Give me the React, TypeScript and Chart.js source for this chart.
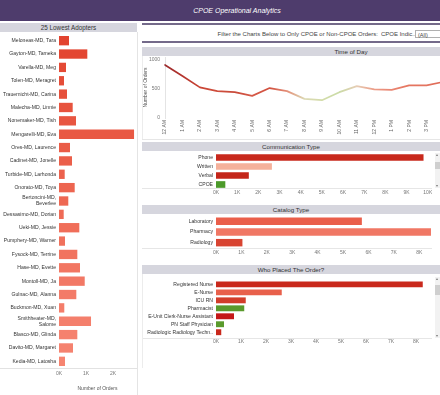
import React, { useEffect, useRef } from "react";
import { Chart, registerables } from "chart.js";

Chart.register(...registerables);

const FONT = "'Liberation Sans', Arial, Helvetica, sans-serif";
Chart.defaults.font.family = FONT;
Chart.defaults.color = "#555";

// ---------------- data ----------------
const adopterNames: (string | string[])[] = [
  "Meloneas-MD, Tara",
  "Gayton-MD, Tameka",
  "Varella-MD, Meg",
  "Tolen-MD, Meragret",
  "Trauernicht-MD, Carina",
  "Malecha-MD, Linnie",
  "Nonemaker-MD, Tish",
  "Mengarelli-MD, Eva",
  "Ores-MD, Laurence",
  "Cadinet-MD, Jonelle",
  "Turbide-MD, Larhonda",
  "Onorato-MD, Toya",
  ["Bertoncini-MD,", "Beverlee"],
  "Dessasimo-MD, Dorian",
  "Ueki-MD, Jessie",
  "Pumphery-MD, Warner",
  "Fysock-MD, Terrine",
  "Hase-MD, Evette",
  "Montoll-MD, Ja",
  "Gulnac-MD, Alanna",
  "Buckmon-MD, Xuan",
  ["Smithheater-MD,", "Salome"],
  "Blasco-MD, Glinda",
  "Davito-MD, Margaret",
  "Kedia-MD, Latosha",
];
const adopterOrders = [
  370, 1048, 260, 185, 296, 507, 630, 2778, 407, 481, 211, 581, 344, 174, 752,
  222, 678, 778, 952, 641, 196, 1185, 678, 519, 222,
];
const adopterColors = [
  "#e2432f", "#e34632", "#e44a35", "#e54d38", "#e6503b", "#e7533e", "#e85641",
  "#e95944", "#ea5c47", "#eb5f4a", "#ec624d", "#ed6550", "#ee6853", "#ef6b56",
  "#f06e59", "#f0715c", "#f1735f", "#f27662", "#f27865", "#f37b68", "#f47d6a",
  "#f47f6c", "#f5816e", "#f5826f", "#f68470",
];
const adopterTicks = [0, 1000, 2000];

const hourLabels = [
  "12 AM", "1 AM", "2 AM", "3 AM", "4 AM", "5 AM", "6 AM", "7 AM", "8 AM",
  "9 AM", "10 AM", "11 AM", "12 PM", "1 PM", "2 PM", "3 PM", "4 PM",
];
const hourOrders = [
  913, 723, 527, 463, 445, 381, 515, 463, 329, 307, 445, 549, 492, 485, 562,
  562, 624,
];
const hourColors = [
  "#9b2a2c", "#b5352e", "#c94535", "#cf4d3c", "#c84a3a", "#d65a48", "#d1503f",
  "#e48f78", "#dcd9b4", "#d3dcaa", "#cadba6", "#e6cdb5", "#ec9c87", "#e98572",
  "#e5755f", "#e37460", "#de6652",
];
const hourTicks = [0, 500, 1000];

const commTypes = ["Phone", "Written", "Verbal", "CPOE"];
const commOrders = [9800, 2640, 1550, 440];
const commColors = ["#c8281c", "#f5b19b", "#c4261a", "#4c9a2a"];
const commTicks = [0, 1000, 2000, 3000, 4000, 5000, 6000, 7000, 8000, 9000, 10000];

const catalogTypes = ["Laboratory", "Pharmacy", "Radiology"];
const catalogOrders = [5740, 8460, 1040];
const catalogColors = ["#ea5e4a", "#f07764", "#d84431"];
const catalogTicks = [0, 1000, 2000, 3000, 4000, 5000, 6000, 7000, 8000];

const placerRoles = [
  "Registered Nurse",
  "E-Nurse",
  "ICU RN",
  "Pharmacist",
  "E-Unit Clerk-Nurse Assistant",
  "PN Staff Physician",
  "Radiologic Radiology Techn..",
];
const placerOrders = [8270, 2630, 1190, 1130, 720, 320, 210];
const placerColors = [
  "#c9291c", "#e8604b", "#d23d2a", "#5a9a2c", "#c41818", "#5a9a2c", "#c9291c",
];
const placerTicks = [0, 1000, 2000, 3000, 4000, 5000, 6000, 7000, 8000];

// ---------------- helpers ----------------
function fixWidth(w: number) {
  return (s: any) => {
    s.width = w;
    s.paddingLeft = 0;
    s.paddingRight = 0;
    s.paddingTop = 0;
    s.paddingBottom = 0;
  };
}
function fixHeight(h: number) {
  return (s: any) => {
    s.height = h;
    s.paddingLeft = 0;
    s.paddingRight = 0;
    s.paddingTop = 0;
    s.paddingBottom = 0;
  };
}
function setTicks(values: number[]) {
  return (s: any) => {
    s.ticks = values.map((v) => ({ value: v }));
  };
}

function ChartCanvas(props: { x: number; y: number; w: number; h: number; make: () => any }) {
  const ref = useRef<HTMLCanvasElement | null>(null);
  useEffect(() => {
    const chart = new Chart(ref.current as HTMLCanvasElement, props.make());
    return () => chart.destroy();
  }, []);
  return (
    <canvas
      ref={ref}
      width={props.w}
      height={props.h}
      style={{ position: "absolute", left: props.x, top: props.y, width: props.w, height: props.h }}
    />
  );
}

type HBarOpts = {
  labels: any[];
  values: number[];
  colors: string[];
  ticks: number[];
  max: number;
  yW: number;
  xH: number;
  barPct: number;
  xPad: number;
  indexMax?: number;
  xTitle?: string;
};

function hbar(o: HBarOpts) {
  const linearIndex = o.indexMax !== undefined;
  const data = linearIndex ? o.values.map((v, i) => ({ x: v, y: i })) : o.values;
  const yTicks = {
    autoSkip: false,
    padding: 3,
    color: "#333",
    font: { size: 5.1, family: FONT },
  };
  return {
    type: "bar",
    data: {
      labels: linearIndex ? undefined : o.labels,
      datasets: [
        {
          data,
          backgroundColor: o.colors,
          borderWidth: 0,
          barPercentage: o.barPct,
          categoryPercentage: 1,
        },
      ],
    },
    options: {
      indexAxis: "y",
      responsive: false,
      animation: false,
      events: [],
      layout: { padding: 0 },
      plugins: { legend: { display: false }, tooltip: { enabled: false } },
      scales: {
        x: {
          type: "linear",
          min: 0,
          max: o.max,
          grid: { display: false, drawTicks: false },
          border: { display: false },
          ticks: {
            autoSkip: false,
            maxRotation: 0,
            padding: o.xPad,
            color: "#777",
            font: { size: 5, family: FONT },
            callback: (v: number) => v / 1000 + "K",
          },
          afterBuildTicks: setTicks(o.ticks),
          title: o.xTitle
            ? {
                display: true,
                text: o.xTitle,
                color: "#555",
                font: { size: 5, family: FONT },
                padding: { top: 0, bottom: 3 },
              }
            : { display: false },
          afterFit: fixHeight(o.xH),
        },
        y: linearIndex
          ? {
              type: "linear",
              reverse: true,
              min: -0.5,
              max: o.indexMax,
              grid: { display: false, drawTicks: false },
              border: { display: false },
              ticks: {
                ...yTicks,
                callback: (v: number) => (Number.isInteger(v) && o.labels[v] !== undefined ? o.labels[v] : ""),
              },
              afterBuildTicks: setTicks(o.labels.map((_, i) => i)),
              afterFit: fixWidth(o.yW),
            }
          : {
              type: "category",
              grid: { display: false, drawTicks: false },
              border: { display: false },
              ticks: yTicks,
              afterFit: fixWidth(o.yW),
            },
      },
    },
  };
}

function lineConfig() {
  return {
    type: "line",
    data: {
      labels: hourLabels,
      datasets: [
        {
          data: hourOrders,
          borderWidth: 1.7,
          pointRadius: 0,
          tension: 0,
          fill: false,
          borderCapStyle: "round",
          borderJoinStyle: "round",
          borderColor: (ctx: any) => {
            const chart = ctx.chart;
            const xs = chart.scales && chart.scales.x;
            if (!xs || !chart.chartArea) return hourColors[0];
            const n = hourColors.length;
            const x0 = xs.getPixelForValue(0);
            const x1 = xs.getPixelForValue(n - 1);
            if (!isFinite(x0) || !isFinite(x1) || x1 <= x0) return hourColors[0];
            const g = chart.ctx.createLinearGradient(x0, 0, x1, 0);
            hourColors.forEach((c, i) => g.addColorStop(i / (n - 1), c));
            return g;
          },
        },
      ],
    },
    options: {
      responsive: false,
      animation: false,
      events: [],
      layout: { padding: 0 },
      plugins: { legend: { display: false }, tooltip: { enabled: false } },
      scales: {
        x: {
          type: "category",
          grid: { display: false, drawTicks: false },
          border: { display: false },
          ticks: {
            autoSkip: false,
            minRotation: 90,
            maxRotation: 90,
            padding: 2,
            color: "#666",
            font: { size: 5, family: FONT },
          },
          afterFit: fixHeight(20),
        },
        y: {
          type: "linear",
          min: 0,
          max: 1050,
          grid: { display: false, drawTicks: false },
          border: { display: true, color: "#e4e4e4", width: 1 },
          ticks: {
            padding: 5,
            color: "#777",
            font: { size: 5, family: FONT },
            callback: (v: number) => String(v),
          },
          afterBuildTicks: setTicks(hourTicks),
          title: {
            display: true,
            text: "Number of Orders",
            color: "#555",
            font: { size: 5, family: FONT },
            padding: { top: 1, bottom: 0 },
          },
          afterFit: fixWidth(23),
        },
      },
    },
  };
}

// ---------------- small layout pieces ----------------
const HEADER_BG = "#d6d6de";

function Header(props: { x: number; y: number; w: number; h: number; text: string; size?: number }) {
  return (
    <div
      style={{
        position: "absolute",
        left: props.x,
        top: props.y,
        width: props.w,
        height: props.h,
        background: HEADER_BG,
        color: "#333",
        fontSize: props.size || 6.2,
        lineHeight: props.h + "px",
        textAlign: "center",
        whiteSpace: "nowrap",
      }}
    >
      {props.text}
    </div>
  );
}

function HLine(props: { x: number; y: number; w: number; color?: string; h?: number }) {
  return (
    <div
      style={{
        position: "absolute",
        left: props.x,
        top: props.y,
        width: props.w,
        height: props.h || 1,
        background: props.color || "#e6e6e6",
      }}
    />
  );
}

function VLine(props: { x: number; y: number; h: number; color?: string }) {
  return (
    <div
      style={{
        position: "absolute",
        left: props.x,
        top: props.y,
        width: 1,
        height: props.h,
        background: props.color || "#e6e6e6",
      }}
    />
  );
}

function ScrollBar(props: { x: number; y: number; h: number; thumbTop: number; thumbH: number }) {
  return (
    <div
      style={{
        position: "absolute",
        left: props.x,
        top: props.y,
        width: 5,
        height: props.h,
        background: "#f2f2f2",
      }}
    >
      <div
        style={{
          position: "absolute",
          left: 1,
          top: 1,
          width: 0,
          height: 0,
          borderLeft: "1.5px solid transparent",
          borderRight: "1.5px solid transparent",
          borderBottom: "2px solid #777",
        }}
      />
      <div
        style={{
          position: "absolute",
          left: 0,
          top: props.thumbTop,
          width: 5,
          height: props.thumbH,
          background: "#cfcfcf",
        }}
      />
      <div
        style={{
          position: "absolute",
          left: 1,
          bottom: 1,
          width: 0,
          height: 0,
          borderLeft: "1.5px solid transparent",
          borderRight: "1.5px solid transparent",
          borderTop: "2px solid #777",
        }}
      />
    </div>
  );
}

export default function App() {
  useEffect(() => {
    document.body.style.margin = "0";
    document.body.style.overflow = "hidden";
  }, []);

  return (
    <div
      style={{
        position: "fixed",
        left: 0,
        top: 0,
        width: 440,
        height: 395,
        overflow: "hidden",
        background: "#ffffff",
        fontFamily: FONT,
      }}
    >
      {/* Title bar */}
      <div style={{ position: "absolute", left: 0, top: 0, width: 440, height: 21, background: "#4e3c6c" }} />
      <div
        style={{
          position: "absolute",
          left: 0,
          top: 0,
          width: 474,
          height: 21,
          lineHeight: "21px",
          textAlign: "center",
          color: "#ffffff",
          fontStyle: "italic",
          fontSize: 7,
          whiteSpace: "nowrap",
        }}
      >
        CPOE Operational Analytics
      </div>

      {/* Left panel */}
      <Header x={0} y={23} w={137} h={9} text="25 Lowest Adopters" size={6.3} />
      <VLine x={137} y={32} h={363} color="#e4e4e4" />
      <HLine x={0} y={368} w={137} color="#e2e2e2" />
      <ChartCanvas
        x={0}
        y={34}
        w={136}
        h={361}
        make={() =>
          hbar({
            labels: adopterNames,
            values: adopterOrders,
            colors: adopterColors,
            ticks: adopterTicks,
            max: 2850,
            yW: 59,
            xH: 27,
            barPct: 0.7,
            xPad: 3,
            xTitle: "Number of Orders",
          })
        }
      />

      {/* Filter strip */}
      <HLine x={142} y={23} w={298} h={2} color="#746a8a" />
      <div
        style={{
          position: "absolute",
          left: 142,
          top: 29,
          width: 236,
          height: 10,
          lineHeight: "10px",
          textAlign: "right",
          fontSize: 6,
          color: "#444",
          whiteSpace: "nowrap",
        }}
      >
        Filter the Charts Below to Only CPOE or Non-CPOE Orders:
      </div>
      <div
        style={{
          position: "absolute",
          left: 381,
          top: 29,
          width: 34,
          height: 10,
          lineHeight: "10px",
          fontSize: 6,
          color: "#444",
          whiteSpace: "nowrap",
          overflow: "hidden",
        }}
      >
        CPOE Indic..
      </div>
      <div
        style={{
          position: "absolute",
          left: 415,
          top: 30,
          width: 30,
          height: 8,
          border: "1px solid #b0b0b0",
          background: "#fff",
          fontSize: 5.5,
          lineHeight: "8px",
          paddingLeft: 2,
          color: "#444",
          boxSizing: "border-box",
          whiteSpace: "nowrap",
        }}
      >
        (All)
      </div>
      <HLine x={142} y={41} w={298} h={2} color="#746a8a" />

      {/* Time of Day */}
      <Header x={142} y={47} w={418} h={9} text="Time of Day" />
      <VLine x={142} y={56} h={83} color="#ececec" />
      <HLine x={142} y={139} w={298} color="#e6e6e6" />
      <ChartCanvas x={142} y={57} w={302} h={81} make={lineConfig} />

      {/* Communication Type */}
      <Header x={142} y={142} w={298} h={9} text="Communication Type" />
      <HLine x={142} y={188} w={290} color="#e6e6e6" />
      <ChartCanvas
        x={142}
        y={153}
        w={290}
        h={46}
        make={() =>
          hbar({
            labels: commTypes,
            values: commOrders,
            colors: commColors,
            ticks: commTicks,
            max: 10200,
            yW: 74,
            xH: 10,
            barPct: 0.74,
            xPad: 1,
          })
        }
      />
      <ScrollBar x={435} y={153} h={35} thumbTop={9} thumbH={7} />

      {/* Catalog Type */}
      <Header x={142} y={205} w={298} h={9} text="Catalog Type" />
      <HLine x={142} y={248} w={290} color="#e6e6e6" />
      <ChartCanvas
        x={142}
        y={216}
        w={290}
        h={41}
        make={() =>
          hbar({
            labels: catalogTypes,
            values: catalogOrders,
            colors: catalogColors,
            ticks: catalogTicks,
            max: 8500,
            yW: 74,
            xH: 9,
            barPct: 0.7,
            xPad: 2,
          })
        }
      />

      {/* Who Placed The Order? */}
      <Header x={142} y={265} w={298} h={9} text="Who Placed The Order?" />
      <HLine x={142} y={338} w={290} color="#e6e6e6" />
      <VLine x={142} y={274} h={94} color="#ececec" />
      <ChartCanvas
        x={142}
        y={276}
        w={290}
        h={71}
        make={() =>
          hbar({
            labels: placerRoles,
            values: placerOrders,
            colors: placerColors,
            ticks: placerTicks,
            max: 8640,
            yW: 74,
            xH: 9,
            barPct: 0.74,
            xPad: 1,
            indexMax: 6.17,
          })
        }
      />
      <ScrollBar x={435} y={277} h={61} thumbTop={8} thumbH={10} />
    </div>
  );
}
